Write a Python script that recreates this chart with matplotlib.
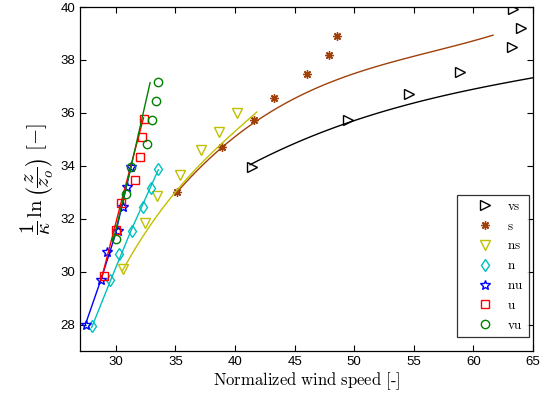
import matplotlib
matplotlib.use("Agg")
import matplotlib.pyplot as plt
import numpy as np

plt.rcParams['mathtext.fontset'] = 'cm'
plt.rcParams['font.family'] = ['Liberation Sans', 'DejaVu Sans']

# ---- data ----
labels = ['vs', 's', 'ns', 'n', 'nu', 'u', 'vu']
colors = ['#000000', '#a0400a', '#c0c000', '#00c0c0', '#0000ff', '#ff0000', '#008000']

vs_x = [41.44, 49.49, 54.61, 58.90, 63.26, 64.02, 63.34]
vs_y = [33.96, 35.74, 36.72, 37.55, 38.49, 39.21, 39.92]
s_x = [35.12, 38.94, 41.63, 43.31, 46.08, 47.92, 48.60]
s_y = [32.99, 34.71, 35.72, 36.55, 37.48, 38.19, 38.92]
ns_x = [30.63, 32.46, 33.49, 35.39, 37.16, 38.64, 40.15]
ns_y = [30.10, 31.84, 32.87, 33.66, 34.60, 35.29, 36.01]
n_x = [27.98, 29.52, 30.30, 31.34, 32.31, 32.96, 33.57]
n_y = [27.94, 29.67, 30.68, 31.52, 32.46, 33.17, 33.88]
nu_x = [27.50, 28.74, 29.24, 30.16, 30.63, 30.94, 31.26]
nu_y = [27.97, 29.70, 30.73, 31.55, 32.46, 33.18, 33.95]
u_x = [29.04, 30.00, 30.44, 31.64, 32.04, 32.20, 32.37]
u_y = [29.85, 31.58, 32.59, 33.45, 34.35, 35.07, 35.76]
vu_x = [30.00, 30.84, 31.28, 32.65, 33.07, 33.35, 33.57]
vu_y = [31.23, 32.94, 33.97, 34.83, 35.74, 36.44, 37.16]

# points read along the fitted curves of the reference
vs_fit_x = [41.27, 43.20, 46.05, 49.66, 52.18, 58.64, 65.02]
vs_fit_y = [34.00, 34.53, 35.06, 35.62, 36.00, 36.79, 37.32]
s_fit_x = [35.12, 38.98, 41.63, 44.63, 45.47, 48.82, 52.18, 56.94, 61.64]
s_fit_y = [32.98, 34.71, 35.72, 36.43, 36.60, 37.31, 37.77, 38.40, 38.92]
ns_fit_x = [30.57, 32.04, 33.71, 35.39, 37.07, 38.75, 40.43, 41.83]
ns_fit_y = [30.04, 31.17, 32.26, 33.21, 34.04, 34.79, 35.47, 36.03]
n_fit_x = [27.98, 29.52, 31.28, 33.57]
n_fit_y = [27.89, 29.62, 31.55, 33.85]
nu_fit_x = [27.42, 28.76, 29.94, 31.28]
nu_fit_y = [27.96, 29.70, 31.36, 33.96]
u_fit_x = [28.76, 30.44, 32.33]
u_fit_y = [29.66, 32.60, 35.81]
vu_fit_x = [29.81, 31.32, 32.88]
vu_fit_y = [31.21, 34.04, 37.14]

xticks = [30, 35, 40, 45, 50, 55, 60, 65]
yticks = [28, 30, 32, 34, 36, 38, 40]

series = [
    (vs_x, vs_y, vs_fit_x, vs_fit_y, '>'),
    (s_x, s_y, s_fit_x, s_fit_y, (8, 2, 0)),
    (ns_x, ns_y, ns_fit_x, ns_fit_y, 'v'),
    (n_x, n_y, n_fit_x, n_fit_y, 'd'),
    (nu_x, nu_y, nu_fit_x, nu_fit_y, '*'),
    (u_x, u_y, u_fit_x, u_fit_y, 's'),
    (vu_x, vu_y, vu_fit_x, vu_fit_y, 'o'),
]


def fit_curve(fx, fy):
    """Smooth least-squares curve through the points read along a fit line."""
    fx = np.asarray(fx)
    fy = np.asarray(fy)
    if len(fx) >= 6:
        p = np.polyfit(fx, fy, 3)
        xs = np.linspace(fx.min(), fx.max(), 120)
        return xs, np.polyval(p, xs)
    return fx, fy


fig = plt.figure(figsize=(5.45, 3.94), dpi=100)
ax = fig.add_axes([80/545, 43/394, 453/545, 344/394])

handles = []
for (x, y, fx, fy, m), lab, c in zip(series, labels, colors):
    msize = 7 if m in ('>', 'v', '*') else 6
    if m == (8, 2, 0):
        h, = ax.plot(x, y, linestyle='none', marker=m, markersize=6,
                     markeredgecolor=c, markeredgewidth=1.0, label=lab)
    else:
        h, = ax.plot(x, y, linestyle='none', marker=m, markersize=msize,
                     markerfacecolor='none', markeredgecolor=c,
                     markeredgewidth=1.0, label=lab)
    cx, cy = fit_curve(fx, fy)
    ax.plot(cx, cy, '-', color=c, linewidth=1.0)
    handles.append(h)

ax.set_xlim(27, 65)
ax.set_ylim(27, 40)
ax.set_xticks(xticks)
ax.set_yticks(yticks)
ax.tick_params(direction='in', top=True, right=True, length=4, width=0.8,
               labelsize=9.5)
for sp in ax.spines.values():
    sp.set_linewidth(0.9)

ax.set_xlabel(r'$\mathrm{Normalized\ wind\ speed\ [\text{-}]}$', fontsize=12,
              labelpad=2)
ax.set_ylabel(r'$\dfrac{1}{\kappa}\,\ln\left(\dfrac{z}{z_o}\right)\ [-]$',
              fontsize=15, labelpad=3)

leg = ax.legend(handles=handles,
                labels=[r'$\mathrm{%s}$' % l for l in labels],
                loc='lower right', bbox_to_anchor=(0.9912, 0.040),
                frameon=True, fancybox=False, edgecolor='black',
                fontsize=9.5, handlelength=3.4, handletextpad=0.0,
                labelspacing=0.58, borderpad=0.4, borderaxespad=0)
leg.get_frame().set_linewidth(0.9)

fig.savefig('out.png', dpi=100)
